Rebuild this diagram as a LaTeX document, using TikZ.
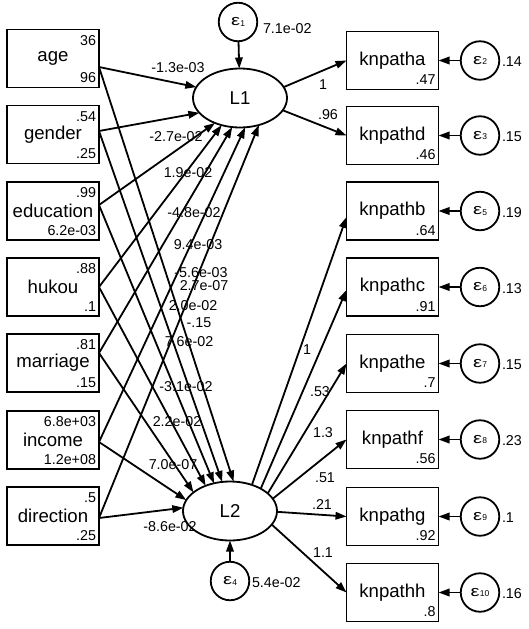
\documentclass[tikz,border=0pt]{standalone}
\usepackage{graphicx}
\usepackage{fontspec}
\setmainfont{Liberation Sans}
\usetikzlibrary{arrows.meta,shapes.geometric}
\newcommand\epsl[1]{\scalebox{1.35}[1]{ε}\kern0.2pt\raisebox{-0.6pt}{\fontsize{8.5}{9}\selectfont #1}}
\begin{document}
\begin{tikzpicture}[x=1pt,y=-1pt,
  every node/.style={inner sep=0pt, outer sep=0pt},
  obs/.style={draw, line width=1.8pt, minimum width=92pt, minimum height=58pt, font=\fontsize{18.6}{20}\selectfont},
  lat/.style={draw, ellipse, line width=1.8pt, minimum width=94pt, minimum height=59pt, font=\fontsize{18.6}{20}\selectfont},
  err/.style={draw, circle, line width=1.8pt, minimum size=38.5pt, font=\fontsize{15}{15}\selectfont},
  num/.style={font=\fontsize{14.3}{15}\selectfont},
  conn/.style={line width=1.8pt, -{Triangle[length=11pt,width=7.5pt]}},
]
\useasboundingbox (0,0) rectangle (529,629);

% left observed boxes
\node[obs] (age) at (53,58.5) {age};
\node[obs] (gender) at (53,134.5) {gender};
\node[obs] (edu) at (53,211) {education};
\node[obs] (hukou) at (53,287) {hukou};
\node[obs] (marr) at (53,363) {marriage};
\node[obs] (inc) at (53,440) {income};
\node[obs] (dir) at (53,516) {direction};

\foreach \n/\m/\v in {age/36/96, gender/.54/.25, edu/.99/6.2e-03, hukou/.88/.1, marr/.81/.15, inc/6.8e+03/1.2e+08, dir/.5/.25}{
  \node[num, anchor=north east] (\n m) at ([shift={(-3,6)}]\n.north east) {\m};
  \node[num, anchor=base east] (\n v) at ([shift={(-3,-5)}]\n.south east) {\v};
}

% latent
\node[lat] (L1) at (240,98) {L1};
\node[lat] (L2) at (230,511) {L2};
\node[err] (e1) at (238,22) {\epsl{1}};
\node[err] (e4) at (230,581) {\epsl{4}};
\node[num, anchor=base west] (e1v) at (263,33.5) {7.1e-02};
\node[num, anchor=base west] (e4v) at (252,587) {5.4e-02};
\draw[conn] (e1) -- (L1);
\draw[conn] (e4) -- (L2);

% right indicator boxes
\foreach \n/\y/\i/\e/\ev in {knpatha/60.5/.47/2/.14, knpathd/135.5/.46/3/.15, knpathb/211/.64/5/.19, knpathc/287/.91/6/.13, knpathe/363.5/.7/7/.15, knpathf/439.5/.56/8/.23, knpathg/516.5/.92/9/.1, knpathh/592.5/.8/10/.16}{
  \node[obs] (\n) at (392.5,\y) {\n};
  \node[num, anchor=base east] (\n i) at ([shift={(-3,-5)}]\n.south east) {\i};
  \node[err] (e\e) at (480,\y) {\epsl{\e}};
  \node[num, anchor=west] (e\e v) at (502,\y+1.5) {\ev};
  \draw[conn] (e\e) -- (\n);
}

% start points on left boxes
\coordinate (ageo) at ([shift={(0,8.5)}]age.east);
\coordinate (gendero) at ([shift={(0,-3.5)}]gender.east);
\coordinate (eduo) at ([shift={(0,-6)}]edu.east);
\coordinate (hukouo) at (hukou.east);
\coordinate (marro) at ([shift={(0,-10)}]marr.east);
\coordinate (inco) at ([shift={(0,2)}]inc.east);
\coordinate (diro) at ([shift={(0,2)}]dir.east);

% paths to L1
\draw[conn] (ageo) -- (L1.166);
\draw[conn] (gendero) -- (L1.200);
\draw[conn] (eduo) -- (L1.225);
\draw[conn] (hukouo) -- (L1.236);
\draw[conn] (marro) -- (L1.255);
\draw[conn] (inco) -- (L1.280);
\draw[conn] (diro) -- (L1.305);
% paths to L2
\draw[conn] (ageo) -- (L2.83);
\draw[conn] (gendero) -- (L2.105);
\draw[conn] (eduo) -- (L2.120);
\draw[conn] (hukouo) -- (L2.134);
\draw[conn] (marro) -- (L2.153);
\draw[conn] (inco) -- (L2.166);
\draw[conn] (diro) -- (L2.176);

% measurement paths
\draw[conn] (L1.14) -- (knpatha.west);
\draw[conn] (L1.344) -- (knpathd.west);
\draw[conn] (L2.50) -- ([shift={(0,6)}]knpathb.west);
\draw[conn] (L2.36) -- ([shift={(0,3)}]knpathc.west);
\draw[conn] (L2.25) -- (knpathe.west);
\draw[conn] (L2.16) -- (knpathf.west);
\draw[conn] (L2.359) -- (knpathg.west);
\draw[conn] (L2.342) -- (knpathh.west);

% path coefficients
\node[num] (c1) at (178,68) {-1.3e-03};
\node[num] (c2) at (176,137) {-2.7e-02};
\node[num] (c3) at (188,173) {1.9e-02};
\node[num] (c4) at (194,213) {-4.8e-02};
\node[num] (c5) at (198,245) {9.4e-03};
\node[num] (c6) at (201,273) {-5.6e-03};
\node[num] (c7) at (204,286) {2.7e-07};
\node[num] (c8) at (193,306) {2.0e-02};
\node[num] (c9) at (199,323) {-.15};
\node[num] (c10) at (189,342) {7.6e-02};
\node[num] (c11) at (186,387) {-3.1e-02};
\node[num] (c12) at (177,422) {2.2e-02};
\node[num] (c13) at (173,465) {7.0e-07};
\node[num] (c14) at (170,527) {-8.6e-02};

\node[num] (r1) at (323,85) {1};
\node[num] (r2) at (328,115) {.96};
\node[num] (r3) at (307,350) {1};
\node[num] (r4) at (320,392) {.53};
\node[num] (r5) at (323,433) {1.3};
\node[num] (r6) at (325,478) {.51};
\node[num] (r7) at (322,505) {.21};
\node[num] (r8) at (323,553) {1.1};
\end{tikzpicture}
\end{document}
